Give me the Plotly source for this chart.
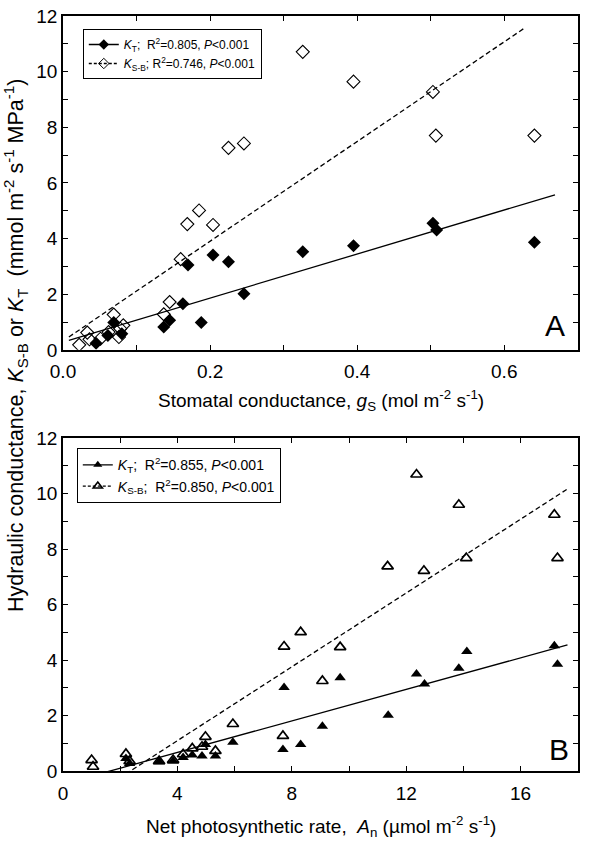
import plotly.graph_objects as go

# ---------------- Panel A: stomatal conductance ----------------
gs_kt = [0.045, 0.061, 0.069, 0.080, 0.137, 0.145, 0.163, 0.170, 0.188, 0.204,
         0.225, 0.246, 0.326, 0.395, 0.503, 0.508, 0.641]
kt_a = [0.24, 0.52, 0.98, 0.58, 0.82, 1.06, 1.66, 3.05, 0.98, 3.41,
        3.17, 2.02, 3.53, 3.74, 4.55, 4.31, 3.87]

gs_ksb = [0.022, 0.033, 0.036, 0.051, 0.062, 0.069, 0.076, 0.078, 0.082, 0.137,
          0.145, 0.160, 0.169, 0.185, 0.204, 0.225, 0.246, 0.326, 0.395, 0.503,
          0.507, 0.641]
ksb_a = [0.18, 0.62, 0.38, 0.40, 0.64, 1.27, 0.46, 0.76, 0.88, 1.28,
         1.72, 3.26, 4.52, 5.01, 4.49, 7.26, 7.42, 10.71, 9.64, 9.27,
         7.70, 7.70]

# regression lines (intercept, slope) and x-extent
fit_a_kt = [0.28, 7.91]
fit_a_kt_x = [0.008, 0.669]
fit_a_ksb = [0.32, 17.92]
fit_a_ksb_x = [0.008, 0.629]

# ---------------- Panel B: net photosynthetic rate ----------------
an_kt = [2.20, 2.33, 3.36, 3.85, 4.20, 4.52, 4.86, 4.98, 5.33, 5.94,
         7.69, 7.73, 8.31, 9.07, 9.69, 11.37, 12.36, 12.64, 13.84, 14.12,
         17.18, 17.29]
kt_b = [0.46, 0.28, 0.34, 0.37, 0.49, 0.58, 0.55, 0.96, 0.55, 1.04,
        0.78, 3.02, 0.96, 1.62, 3.37, 2.02, 3.50, 3.14, 3.71, 4.31,
        4.52, 3.85]

an_ksb = [1.00, 1.05, 2.20, 2.33, 3.36, 3.85, 4.20, 4.52, 4.86, 4.98,
          5.33, 5.94, 7.69, 7.73, 8.31, 9.07, 9.69, 11.35, 12.36, 12.62,
          13.84, 14.10, 17.18, 17.29]
ksb_b = [0.40, 0.16, 0.62, 0.36, 0.36, 0.40, 0.61, 0.82, 0.88, 1.24,
         0.73, 1.70, 1.27, 4.49, 5.01, 3.25, 4.47, 7.38, 10.69, 7.22,
         9.60, 7.68, 9.24, 7.68]

fit_b_kt = [-0.46, 0.284]
fit_b_kt_x = [1.24, 17.64]
fit_b_ksb = [-1.56, 0.665]
fit_b_ksb_x = [2.19, 17.61]

legend_a = ["<i>K</i><sub>T</sub>;  R<sup>2</sup>=0.805, <i>P</i>&lt;0.001",
            "<i>K</i><sub>S-B</sub>; R<sup>2</sup>=0.746, <i>P</i>&lt;0.001"]
legend_b = ["<i>K</i><sub>T</sub>;  R<sup>2</sup>=0.855, <i>P</i>&lt;0.001",
            "<i>K</i><sub>S-B</sub>;  R<sup>2</sup>=0.850, <i>P</i>&lt;0.001"]

title_xa = "Stomatal conductance, <i>g</i><sub>S</sub> (mol m<sup>-2</sup> s<sup>-1</sup>)"
title_xb = "Net photosynthetic rate,  <i>A</i><sub>n</sub> (µmol m<sup>-2</sup> s<sup>-1</sup>)"
title_y = ("Hydraulic conductance, <i>K</i><sub>S-B</sub> or <i>K</i><sub>T</sub>  "
           "(mmol m<sup>-2</sup> s<sup>-1</sup> MPa<sup>-1</sup>)")

FONT = "Liberation Sans, Arial, sans-serif"
LW = 1.3


def line_pts(coef, xr):
    return xr, [coef[0] + coef[1] * v for v in xr]


fig = go.Figure()

# --- panel A traces
for coef, xr, dash in [(fit_a_kt, fit_a_kt_x, "solid"), (fit_a_ksb, fit_a_ksb_x, "5px,3px")]:
    lx, ly = line_pts(coef, xr)
    fig.add_trace(go.Scatter(x=lx, y=ly, mode="lines", line=dict(color="black", width=LW, dash=dash),
                             showlegend=False, xaxis="x", yaxis="y"))
fig.add_trace(go.Scatter(x=gs_ksb, y=ksb_a, mode="markers",
                         marker=dict(symbol="diamond-open", size=10, color="black", line=dict(width=1.1)),
                         showlegend=False, xaxis="x", yaxis="y"))
fig.add_trace(go.Scatter(x=gs_kt, y=kt_a, mode="markers",
                         marker=dict(symbol="diamond", size=10, color="black"),
                         showlegend=False, xaxis="x", yaxis="y"))
fig.add_trace(go.Scatter(x=[None], y=[None], mode="lines+markers", name=legend_a[0],
                         line=dict(color="black", width=LW),
                         marker=dict(symbol="diamond", size=8, color="black"),
                         legend="legend", xaxis="x", yaxis="y"))
fig.add_trace(go.Scatter(x=[None], y=[None], mode="lines+markers", name=legend_a[1],
                         line=dict(color="black", width=LW, dash="3px,2px"),
                         marker=dict(symbol="diamond-open", size=8, color="black"),
                         legend="legend", xaxis="x", yaxis="y"))

# --- panel B traces
for coef, xr, dash in [(fit_b_kt, fit_b_kt_x, "solid"), (fit_b_ksb, fit_b_ksb_x, "5px,3px")]:
    lx, ly = line_pts(coef, xr)
    fig.add_trace(go.Scatter(x=lx, y=ly, mode="lines", line=dict(color="black", width=LW, dash=dash),
                             showlegend=False, xaxis="x2", yaxis="y2"))
fig.add_trace(go.Scatter(x=an_ksb, y=ksb_b, mode="markers",
                         marker=dict(symbol="triangle-up-open", size=10, color="black", line=dict(width=1.7)),
                         showlegend=False, xaxis="x2", yaxis="y2"))
fig.add_trace(go.Scatter(x=an_kt, y=kt_b, mode="markers",
                         marker=dict(symbol="triangle-up", size=10, color="black"),
                         showlegend=False, xaxis="x2", yaxis="y2"))
fig.add_trace(go.Scatter(x=[None], y=[None], mode="lines+markers", name=legend_b[0],
                         line=dict(color="black", width=LW),
                         marker=dict(symbol="triangle-up", size=8, color="black"),
                         legend="legend2", xaxis="x2", yaxis="y2"))
fig.add_trace(go.Scatter(x=[None], y=[None], mode="lines+markers", name=legend_b[1],
                         line=dict(color="black", width=LW, dash="3px,2px"),
                         marker=dict(symbol="triangle-up-open", size=8, color="black", line=dict(width=1.6)),
                         legend="legend2", xaxis="x2", yaxis="y2"))

axis_common = dict(showline=True, linecolor="black", linewidth=1.5, mirror="ticks",
                   ticks="inside", ticklen=5, tickwidth=1.2, tickcolor="black",
                   showgrid=False, zeroline=False, automargin=False,
                   tickfont=dict(family=FONT, size=19, color="black"))


def minor(d):
    return dict(ticks="inside", ticklen=5, tickwidth=1.2, tickcolor="black", dtick=d, showgrid=False)


fig.update_layout(
    width=600, height=841,
    margin=dict(l=0, r=0, t=0, b=0),
    paper_bgcolor="white", plot_bgcolor="white",
    font=dict(family=FONT, color="black"),
    xaxis=dict(axis_common, domain=[0.105, 0.963], anchor="y", range=[0, 0.7], dtick=0.2,
               tickformat=".1f", minor=minor(0.1), ticklabelstandoff=4),
    yaxis=dict(axis_common, domain=[0.584, 0.981], anchor="x", range=[0, 12], dtick=2, minor=minor(1)),
    xaxis2=dict(axis_common, domain=[0.105, 0.963], anchor="y2", range=[0, 18], dtick=4, minor=minor(2),
                ticklabelstandoff=4),
    yaxis2=dict(axis_common, domain=[0.083, 0.479], anchor="x2", range=[0, 12], dtick=2, minor=minor(1)),
    legend=dict(x=0.138, y=0.9655, xanchor="left", yanchor="top", bordercolor="black", borderwidth=1,
                bgcolor="white", font=dict(family=FONT, size=12, color="black"), itemwidth=30,
                tracegroupgap=0),
    legend2=dict(x=0.128, y=0.467, xanchor="left", yanchor="top", bordercolor="black", borderwidth=1,
                 bgcolor="white", font=dict(family=FONT, size=14, color="black"), itemwidth=30,
                 tracegroupgap=0),
    annotations=[
        dict(text="A", x=0.925, y=0.6127, xref="paper", yref="paper", showarrow=False,
             font=dict(family=FONT, size=30, color="black"), xanchor="center", yanchor="middle"),
        dict(text="B", x=0.931, y=0.109, xref="paper", yref="paper", showarrow=False,
             font=dict(family=FONT, size=30, color="black"), xanchor="center", yanchor="middle"),
        dict(text=title_xa, x=0.535, y=1 - 400 / 841, xref="paper", yref="paper", showarrow=False,
             font=dict(family=FONT, size=19, color="black"), xanchor="center", yanchor="middle"),
        dict(text=title_xb, x=0.535, y=1 - 826 / 841, xref="paper", yref="paper", showarrow=False,
             font=dict(family=FONT, size=19, color="black"), xanchor="center", yanchor="middle"),
        dict(text=title_y, x=0.025, y=1 - 346 / 841, xref="paper", yref="paper", showarrow=False,
             textangle=-90, font=dict(family=FONT, size=21.5, color="black"),
             xanchor="center", yanchor="middle"),
    ],
)

fig.write_html("out.html", config={"displayModeBar": False},
               post_script="document.body.style.margin='0px';")
